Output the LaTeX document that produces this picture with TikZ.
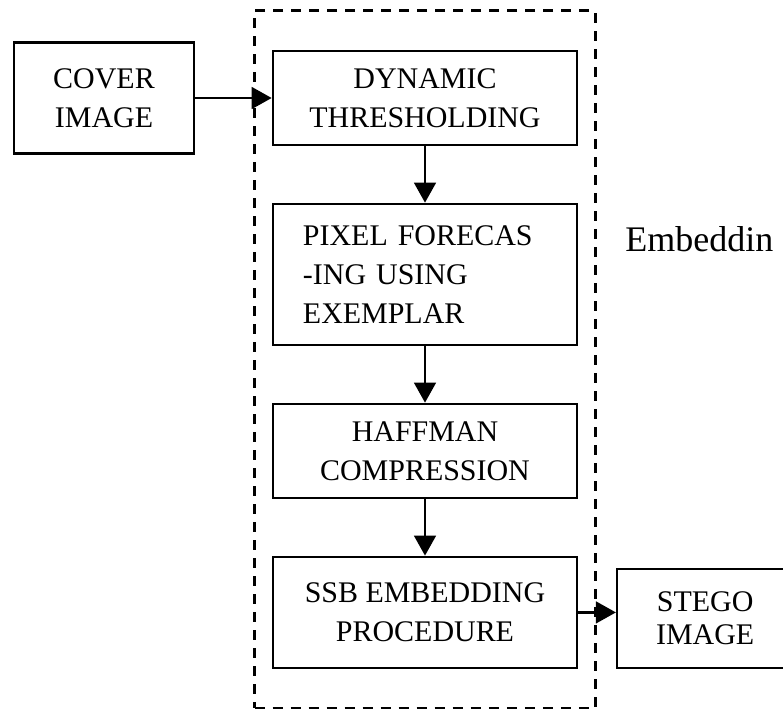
\documentclass[tikz,border=0pt]{standalone}
\usepackage{fontspec}
\setmainfont{Liberation Serif}
\usetikzlibrary{arrows.meta, positioning, fit}
\tikzset{
    block/.style={rectangle, draw=black, line width=1.8pt, inner sep=0pt, minimum width=7.6cm, minimum height=2.35cm, align=center, font=\fontsize{21.3}{27.5}\selectfont},
    block_io/.style={rectangle, draw=black, line width=1.8pt, inner sep=0pt, minimum width=4.5cm, minimum height=2.775cm, align=center, font=\fontsize{21.3}{28}\selectfont},
    arr/.style={-{Triangle[length=0.5cm, width=0.54cm]}, line width=1.9pt, draw=black},
    frame/.style={draw=black, dash pattern=on 0.25cm off 0.2cm, line width=1.9pt, inner xsep=0.425cm, inner ysep=0.975cm},
    lbl/.style={font=\fontsize{25.6}{30}\selectfont, inner sep=0pt},
}

\begin{document}
\begin{tikzpicture}[x=0.025cm, y=-0.025cm, node distance=1.41cm and 1.91cm]
\useasboundingbox (0,0) rectangle (783,709);

% Embedding stages
\node[block] (thresh) at (425,98) {DYNAMIC\\THRESHOLDING};
\node[block, below=of thresh, minimum height=3.525cm, align=left, text width=6.1cm, font=\fontsize{21.3}{27.7}\selectfont] (forecast) {PIXEL FORECAS\\-ING USING\\EXEMPLAR};
\node[block, below=of forecast] (huffman) {HAFFMAN\\COMPRESSION};
\node[block, below=of huffman, minimum height=2.775cm] (ssb) {SSB EMBEDDING\\PROCEDURE};

% Input / output images
\node[block_io, left=of thresh] (cover) {COVER\\IMAGE};
\node[block_io, right=0.94cm of ssb, yshift=-0.15cm, minimum width=4.4cm, minimum height=2.475cm, font=\fontsize{21.3}{23.5}\selectfont] (stego) {STEGO\\IMAGE};

% Dashed frame round the stages
\node[frame, fit=(thresh)(ssb)] (embedbox) {};

% Arrows
\draw[arr] (cover) -- (thresh);
\draw[arr] (thresh) -- (forecast);
\draw[arr] (forecast) -- (huffman);
\draw[arr] (huffman) -- (ssb);
\draw[arr] (ssb.east) -- (ssb.east -| stego.west);

% Labels
\node[lbl, anchor=base west] (embedlbl) at (625,252) {Embeddin};

\end{tikzpicture}
\end{document}
